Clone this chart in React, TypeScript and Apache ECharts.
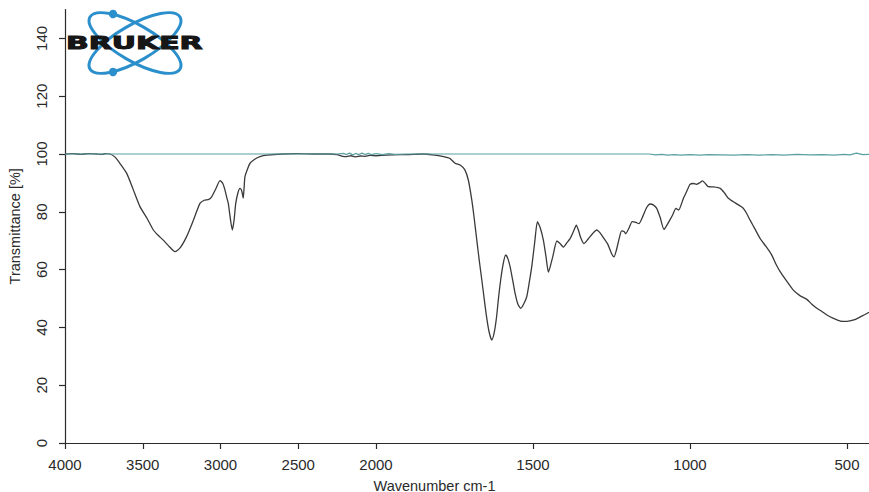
import React, { useEffect, useRef } from "react";
import * as echarts from "echarts";

// Sample spectrum (wavenumber cm-1 -> transmittance %)
const sampleWavenumbers = [
  4000, 3950, 3900, 3850, 3800, 3760, 3740, 3711, 3680, 3650, 3603, 3560, 3518, 3470, 3432, 3400, 3368, 3330, 3293, 3260,
  3218, 3175, 3132, 3105, 3075, 3057, 3030, 3003, 2985, 2971, 2960, 2950, 2935, 2924, 2913, 2902, 2888, 2875, 2866, 2860,
  2854, 2848, 2843, 2825, 2810, 2780, 2746, 2700, 2600, 2500, 2400, 2300, 2250, 2220, 2190, 2160, 2130, 2100, 2070, 2040,
  2000, 1950, 1900, 1849, 1820, 1785, 1765, 1748, 1732, 1717, 1706, 1695, 1687, 1679, 1671, 1663, 1655, 1648, 1640, 1631,
  1623, 1616, 1610, 1603, 1595, 1587, 1580, 1573, 1565, 1557, 1548, 1539, 1530, 1520, 1512, 1504, 1494, 1486, 1477, 1467,
  1458, 1451, 1444, 1437, 1424, 1414, 1403, 1392, 1382, 1370, 1362, 1355, 1348, 1338, 1325, 1310, 1297, 1287, 1276, 1262,
  1250, 1242, 1235, 1225, 1218, 1210, 1205, 1195, 1184, 1172, 1163, 1150, 1138, 1127, 1116, 1106, 1095, 1083, 1073, 1064,
  1055, 1045, 1036, 1028, 1021, 1010, 1000, 990, 979, 970, 960, 950, 942, 925, 904, 890, 878, 855, 832, 820,
  809, 793, 777, 758, 740, 727, 713, 692, 671, 650, 628, 612, 596, 580, 564, 545, 521, 500, 478, 462,
  446, 430,
];
const sampleTransmittance = [
  100, 100.1, 99.9, 100.1, 100, 99.9, 100.1, 100, 99, 97, 93.3, 87.5, 81.8, 77.5, 73.7, 71.8, 70.2, 68, 66.2, 67.5,
  71.4, 77, 82.9, 84, 84.3, 85.2, 88, 90.8, 89.8, 87.5, 85, 82.9, 77, 73.7, 77, 82.9, 86.5, 88.1, 87.6, 86.4,
  84.7, 88.5, 92.1, 95, 96.8, 98.2, 99.1, 99.6, 100, 100.1, 100, 100, 99.8, 99.3, 99.1, 99.4, 99.0, 99.3, 99.2, 99.5,
  99.4, 99.7, 99.8, 100, 99.7, 99.1, 98.5, 96.8, 96.2, 94.5, 91, 84.1, 77.5, 70.2, 63, 56.4, 49.5, 43.7, 38.5, 35.6,
  38.5, 43.7, 50, 56.4, 62, 65.1, 63.8, 61, 56.5, 51.8, 48, 46.6, 48, 50.6, 55.5, 61, 70, 76.6, 74.5, 70.2,
  64, 59.1, 61.5, 64.5, 69.9, 69, 67.8, 69.3, 70.7, 73.5, 75.4, 73.5, 71, 69, 70.5, 72.5, 73.7, 72.8, 71.1, 68.8,
  65.6, 64.4, 66.5, 71, 73.4, 73.2, 72.4, 74.2, 76.6, 76.3, 75.9, 78.5, 81.5, 82.7, 82.3, 81.2, 78, 73.9, 75.5, 77.2,
  79, 81.2, 80.6, 82.5, 84.7, 87.2, 89.5, 89.8, 89.5, 90, 90.7, 89.6, 88.7, 88.6, 88.1, 86.5, 84.7, 83, 81.4, 79.5,
  77.2, 74, 70.8, 68, 65.1, 62, 59.3, 56, 52.9, 51, 49.7, 48, 46.6, 45.5, 44.3, 43.2, 42.2, 42.1, 42.6, 43.4,
  44.3, 45.2,
];

// Reference / background trace
const baselineWavenumbers = [
  4000, 3800, 3600, 3400, 3200, 3000, 2800, 2600, 2400, 2250, 2210, 2190, 2170, 2150, 2130, 2110, 2090, 2070, 2050, 2030,
  2000, 1980, 1960, 1940, 1900, 1700, 1500, 1300, 1130, 1110, 1090, 1070, 1050, 1030, 1000, 970, 940, 900, 860, 820,
  780, 740, 700, 660, 620, 580, 540, 510, 490, 470, 450, 430,
];
const baselineTransmittance = [
  100, 100, 100, 100, 100, 100, 100, 100, 100, 100, 100.2, 99.8, 100.3, 99.7, 100.2, 99.8, 100.3, 99.8, 100.2, 99.8,
  100.1, 99.8, 100.1, 99.9, 100, 100, 100, 100, 100, 99.7, 99.9, 99.6, 99.8, 99.6, 99.8, 99.6, 99.8, 99.7, 99.6, 99.8,
  99.6, 99.8, 99.6, 99.9, 99.7, 99.8, 99.6, 99.9, 99.7, 100.3, 99.8, 99.9,
];

const highRangeTicks = [2000, 2500, 3000, 3500, 4000];
const lowRangeTicks = [500, 1000, 1500];
const yTicks = [0, 20, 40, 60, 80, 100, 120, 140];

const segment = (wns: number[], vals: number[], lo: number, hi: number) =>
  wns.map((w, i) => [w, vals[i]]).filter((p) => p[0] >= lo && p[0] <= hi);

export default function App() {
  const ref = useRef<HTMLDivElement>(null);

  useEffect(() => {
    if (!ref.current) return;
    const chart = echarts.init(ref.current, undefined, { renderer: "svg" });
    const font = "'Liberation Sans', Arial, sans-serif";
    const axisColor = "#2a2a2a";
    const labelColor = "#2a2a2a";
    const logoBlue = "#2b8fcc";

    const xCommon = (min: number, max: number, ticks: number[], gridIndex: number) => ({
      type: "value" as const,
      gridIndex,
      min,
      max,
      inverse: true,
      axisLine: { show: true, onZero: false, lineStyle: { color: axisColor, width: 1.2 } },
      axisTick: { show: true, length: 6, customValues: ticks, lineStyle: { color: axisColor, width: 1.2 } },
      axisLabel: {
        customValues: ticks,
        formatter: (v: number) => String(v),
        color: labelColor,
        fontSize: 15,
        fontFamily: font,
        margin: 14,
        showMinLabel: true,
        showMaxLabel: true,
      },
      splitLine: { show: false },
    });

    const hiSample = segment(sampleWavenumbers, sampleTransmittance, 2000, 4000);
    const loSample = segment(sampleWavenumbers, sampleTransmittance, 0, 2000);
    const hiBase = segment(baselineWavenumbers, baselineTransmittance, 2000, 4000);
    const loBase = segment(baselineWavenumbers, baselineTransmittance, 0, 2000);

    const sampleStyle = { color: "#3a3a3a", width: 1.3 };
    const baseStyle = { color: "#5a9fa2", width: 1.2 };

    chart.setOption({
      animation: false,
      backgroundColor: "#ffffff",
      grid: [
        { left: 65, width: 311, top: 9.5, bottom: 49, outerBoundsMode: "none" },
        { left: 376, right: 0, top: 9.5, bottom: 49, outerBoundsMode: "none" },
      ],
      xAxis: [xCommon(2000, 4000, highRangeTicks, 0), xCommon(430, 2000, lowRangeTicks, 1)],
      yAxis: [
        {
          type: "value",
          gridIndex: 0,
          min: 0,
          max: 150,
          axisLine: { show: true, onZero: false, lineStyle: { color: axisColor, width: 1.2 } },
          axisTick: { show: true, length: 6, customValues: yTicks, lineStyle: { color: axisColor, width: 1.2 } },
          axisLabel: {
            customValues: yTicks,
            rotate: 90,
            color: labelColor,
            fontSize: 15,
            fontFamily: font,
            margin: 16,
          },
          splitLine: { show: false },
          name: "Transmittance [%]",
          nameLocation: "middle",
          nameGap: 43,
          nameTextStyle: { color: labelColor, fontSize: 14.5, fontFamily: font },
        },
        {
          type: "value",
          gridIndex: 1,
          min: 0,
          max: 150,
          show: false,
        },
      ],
      graphic: [
        {
          type: "text",
          left: "center",
          top: 478,
          style: {
            text: "Wavenumber cm-1",
            fill: labelColor,
            font: `14.5px ${font}`,
          },
        },
        {
          type: "ellipse",
          x: 135,
          y: 43,
          rotation: Math.PI / 6,
          shape: { cx: 0, cy: 0, rx: 52, ry: 18 },
          style: { fill: "none", stroke: logoBlue, lineWidth: 3 },
        },
        {
          type: "ellipse",
          x: 135,
          y: 43,
          rotation: -Math.PI / 6,
          shape: { cx: 0, cy: 0, rx: 52, ry: 18 },
          style: { fill: "none", stroke: logoBlue, lineWidth: 3 },
        },
        { type: "circle", shape: { cx: 113, cy: 14, r: 4.2 }, style: { fill: logoBlue } },
        { type: "circle", shape: { cx: 113, cy: 72, r: 4.2 }, style: { fill: logoBlue } },
        {
          type: "text",
          x: 66,
          y: 43,
          scaleX: 1.66,
          style: {
            text: "BRUKER",
            fill: "#161616",
            font: "bold 18px 'DejaVu Sans', sans-serif",
            verticalAlign: "middle",
            stroke: "#161616",
            lineWidth: 1,
          },
        },
      ],
      series: [
        { type: "line", xAxisIndex: 0, yAxisIndex: 0, data: hiSample, showSymbol: false, smooth: 0.2, lineStyle: sampleStyle, silent: true },
        { type: "line", xAxisIndex: 1, yAxisIndex: 1, data: loSample, showSymbol: false, smooth: 0.2, lineStyle: sampleStyle, silent: true },
        { type: "line", xAxisIndex: 0, yAxisIndex: 0, data: hiBase, showSymbol: false, lineStyle: baseStyle, silent: true },
        { type: "line", xAxisIndex: 1, yAxisIndex: 1, data: loBase, showSymbol: false, lineStyle: baseStyle, silent: true },
      ],
    });
    return () => chart.dispose();
  }, []);

  return (
    <div
      ref={ref}
      style={{ position: "fixed", left: 0, top: 0, width: 869, height: 492, background: "#fff" }}
    />
  );
}
